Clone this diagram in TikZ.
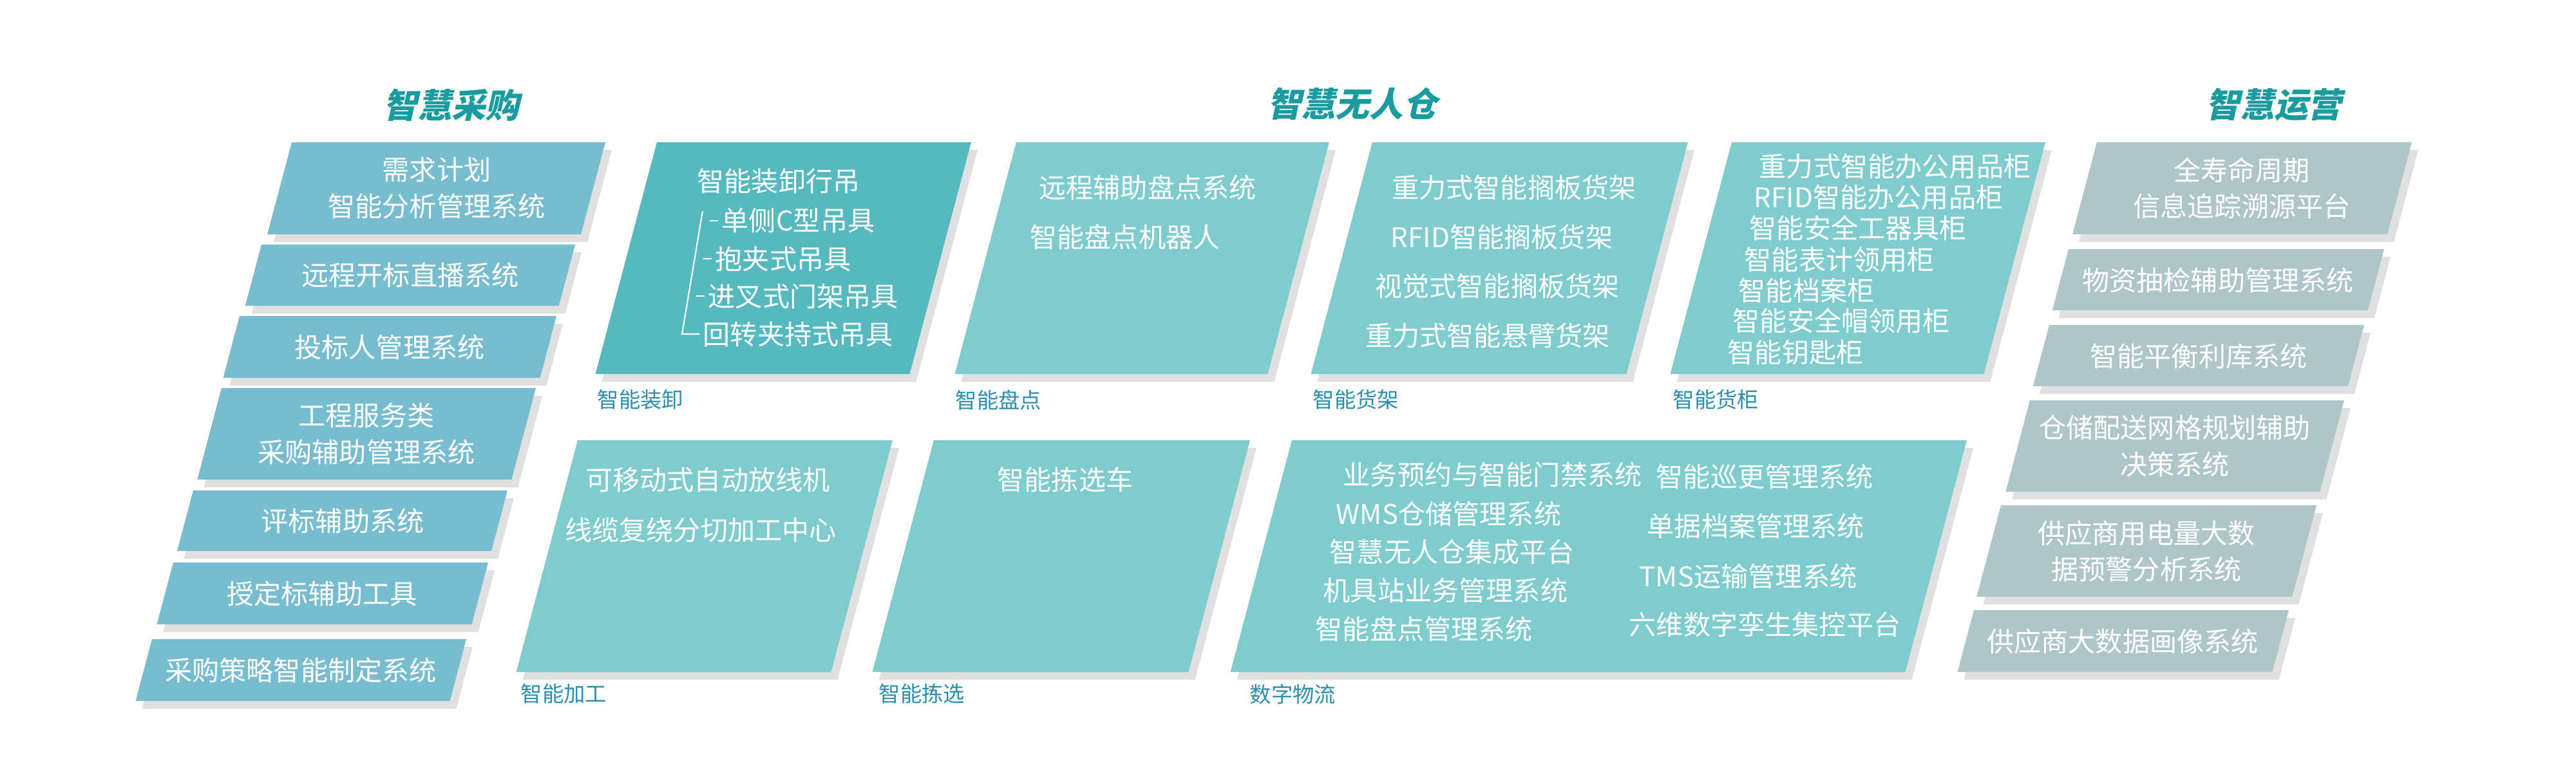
\documentclass[tikz,border=0pt]{standalone}
\usepackage{fontspec}
\setmainfont{Noto Sans CJK SC}
\newfontfamily\headfont[FakeSlant=0.22]{Noto Sans CJK SC}
\usetikzlibrary{shadows}
\definecolor{buyblue}{HTML}{77BCCF}
\definecolor{liftteal}{HTML}{55B9BF}
\definecolor{wareteal}{HTML}{7FCCCF}
\definecolor{opgrey}{HTML}{AFC6C9}
\definecolor{headteal}{HTML}{1A9BA0}
\definecolor{tagblue}{HTML}{2A8FAE}
\tikzset{
  boxtext/.style={text=white,font=\fontsize{12}{16}\selectfont,align=center,inner sep=0pt},
  itemtext/.style={boxtext,anchor=west},
  head/.style={text=headteal,font=\headfont\fontsize{15}{18}\selectfont\bfseries},
  tag/.style={text=tagblue,font=\fontsize{9.5}{12}\selectfont,anchor=north west,inner sep=0pt},
  slabshadow/.style={drop shadow={shadow xshift=0.1,shadow yshift=-0.12,opacity=0.12,fill=black}}
}
% slab: left x, top, bottom, width, colour
\newcommand{\slab}[5]{\fill[#5,slabshadow] (#1,-#2) -- ++(#4,0) -- ++({-0.265*(#3-#2)},{-(#3-#2)}) -- ++(-#4,0) -- cycle;}
\begin{document}
\begin{tikzpicture}
\useasboundingbox (0,0) rectangle (40,-12);
% headings
\node[head] (hbuy) at (7.01,-1.63) {智慧采购};
\node[head] (hware) at (21.0,-1.61) {智慧无人仓};
\node[head] (hop) at (35.31,-1.63) {智慧运营};
% purchase column
\slab{4.53}{2.21}{3.64}{4.87}{buyblue}
\slab{4.06}{3.80}{4.75}{4.87}{buyblue}
\slab{3.72}{4.91}{5.87}{4.92}{buyblue}
\slab{3.44}{6.03}{7.45}{4.88}{buyblue}
\slab{3.00}{7.62}{8.56}{4.88}{buyblue}
\slab{2.69}{8.74}{9.70}{4.89}{buyblue}
\slab{2.36}{9.93}{10.89}{4.88}{buyblue}
\node[boxtext] (b1) at (6.78,-2.92) {需求计划\\智能分析管理系统};
\node[boxtext] (b2) at (6.37,-4.27) {远程开标直播系统};
\node[boxtext] (b3) at (6.05,-5.39) {投标人管理系统};
\node[boxtext] (b4) at (5.69,-6.74) {工程服务类\\采购辅助管理系统};
\node[boxtext] (b5) at (5.32,-8.09) {评标辅助系统};
\node[boxtext] (b6) at (5.00,-9.22) {授定标辅助工具};
\node[boxtext] (b7) at (4.67,-10.41) {采购策略智能制定系统};
% warehouse top row
\slab{10.20}{2.21}{5.81}{4.88}{liftteal}
\slab{15.78}{2.21}{5.81}{4.86}{wareteal}
\slab{21.31}{2.21}{5.81}{4.90}{wareteal}
\slab{26.89}{2.21}{5.81}{4.87}{wareteal}
\node[boxtext] (crane) at (12.09,-2.81) {智能装卸行吊};
\node[itemtext] (c1) at (11.20,-3.43) {单侧C型吊具};
\node[itemtext] (c2) at (11.10,-4.02) {抱夹式吊具};
\node[itemtext] (c3) at (10.99,-4.60) {进叉式门架吊具};
\node[itemtext] (c4) at (10.91,-5.19) {回转夹持式吊具};
\coordinate (ctop) at (10.91,-3.28);
\draw[white,line width=0.6pt] (ctop) -- (10.59,-5.19) -- ([xshift=-0.05cm]c4.west);
\foreach \k in {1,2,3}
  \draw[white,line width=0.6pt] ([xshift=-0.18cm]c\k.west) -- ([xshift=-0.05cm]c\k.west);
\node[boxtext] (p1) at (17.82,-2.91) {远程辅助盘点系统};
\node[boxtext] (p2) at (17.47,-3.68) {智能盘点机器人};
\node[boxtext] (s1) at (23.51,-2.91) {重力式智能搁板货架};
\node[boxtext] (s2) at (23.32,-3.68) {RFID智能搁板货架};
\node[boxtext] (s3) at (23.25,-4.44) {视觉式智能搁板货架};
\node[boxtext] (s4) at (23.10,-5.21) {重力式智能悬臂货架};
\node[itemtext] (g1) at (27.31,-2.59) {重力式智能办公用品柜};
\node[itemtext] (g2) at (27.23,-3.07) {RFID智能办公用品柜};
\node[itemtext] (g3) at (27.16,-3.54) {智能安全工器具柜};
\node[itemtext] (g4) at (27.08,-4.03) {智能表计领用柜};
\node[itemtext] (g5) at (26.99,-4.51) {智能档案柜};
\node[itemtext] (g6) at (26.90,-4.98) {智能安全帽领用柜};
\node[itemtext] (g7) at (26.82,-5.47) {智能钥匙柜};
\node[tag] (t1) at (9.27,-6.05) {智能装卸};
\node[tag] (t2) at (14.83,-6.05) {智能盘点};
\node[tag] (t3) at (20.38,-6.05) {智能货架};
\node[tag] (t4) at (25.97,-6.05) {智能货柜};
% warehouse bottom row
\slab{8.97}{6.84}{10.44}{4.89}{wareteal}
\slab{14.50}{6.84}{10.44}{4.91}{wareteal}
\slab{20.06}{6.84}{10.44}{10.48}{wareteal}
\node[boxtext] (m1) at (10.99,-7.45) {可移动式自动放线机};
\node[boxtext] (m2) at (10.88,-8.23) {线缆复绕分切加工中心};
\node[boxtext] (k1) at (16.54,-7.45) {智能拣选车};
\node[itemtext] (d1) at (20.85,-7.37) {业务预约与智能门禁系统};
\node[itemtext] (d2) at (20.74,-7.98) {WMS仓储管理系统};
\node[itemtext] (d3) at (20.64,-8.58) {智慧无人仓集成平台};
\node[itemtext] (d4) at (20.54,-9.17) {机具站业务管理系统};
\node[itemtext] (d5) at (20.42,-9.77) {智能盘点管理系统};
\node[itemtext] (e1) at (25.71,-7.40) {智能巡更管理系统};
\node[itemtext] (e2) at (25.57,-8.17) {单据档案管理系统};
\node[itemtext] (e3) at (25.45,-8.95) {TMS运输管理系统};
\node[itemtext] (e4) at (25.29,-9.70) {六维数字孪生集控平台};
\node[tag] (t5) at (8.08,-10.62) {智能加工};
\node[tag] (t6) at (13.64,-10.62) {智能拣选};
\node[tag] (t7) at (19.40,-10.62) {数字物流};
% operation column
\slab{32.56}{2.21}{3.64}{4.89}{opgrey}
\slab{32.12}{3.87}{4.82}{4.90}{opgrey}
\slab{31.82}{5.05}{6.00}{4.89}{opgrey}
\slab{31.52}{6.22}{7.64}{4.88}{opgrey}
\slab{31.07}{7.85}{9.27}{4.90}{opgrey}
\slab{30.65}{9.48}{10.44}{4.89}{opgrey}
\node[boxtext] (o1) at (34.81,-2.92) {全寿命周期\\信息追踪溯源平台};
\node[boxtext] (o2) at (34.44,-4.35) {物资抽检辅助管理系统};
\node[boxtext] (o3) at (34.14,-5.53) {智能平衡利库系统};
\node[boxtext] (o4) at (33.77,-6.93) {仓储配送网格规划辅助\\决策系统};
\node[boxtext] (o5) at (33.33,-8.56) {供应商用电量大数\\据预警分析系统};
\node[boxtext] (o6) at (32.96,-9.96) {供应商大数据画像系统};
\end{tikzpicture}
\end{document}
